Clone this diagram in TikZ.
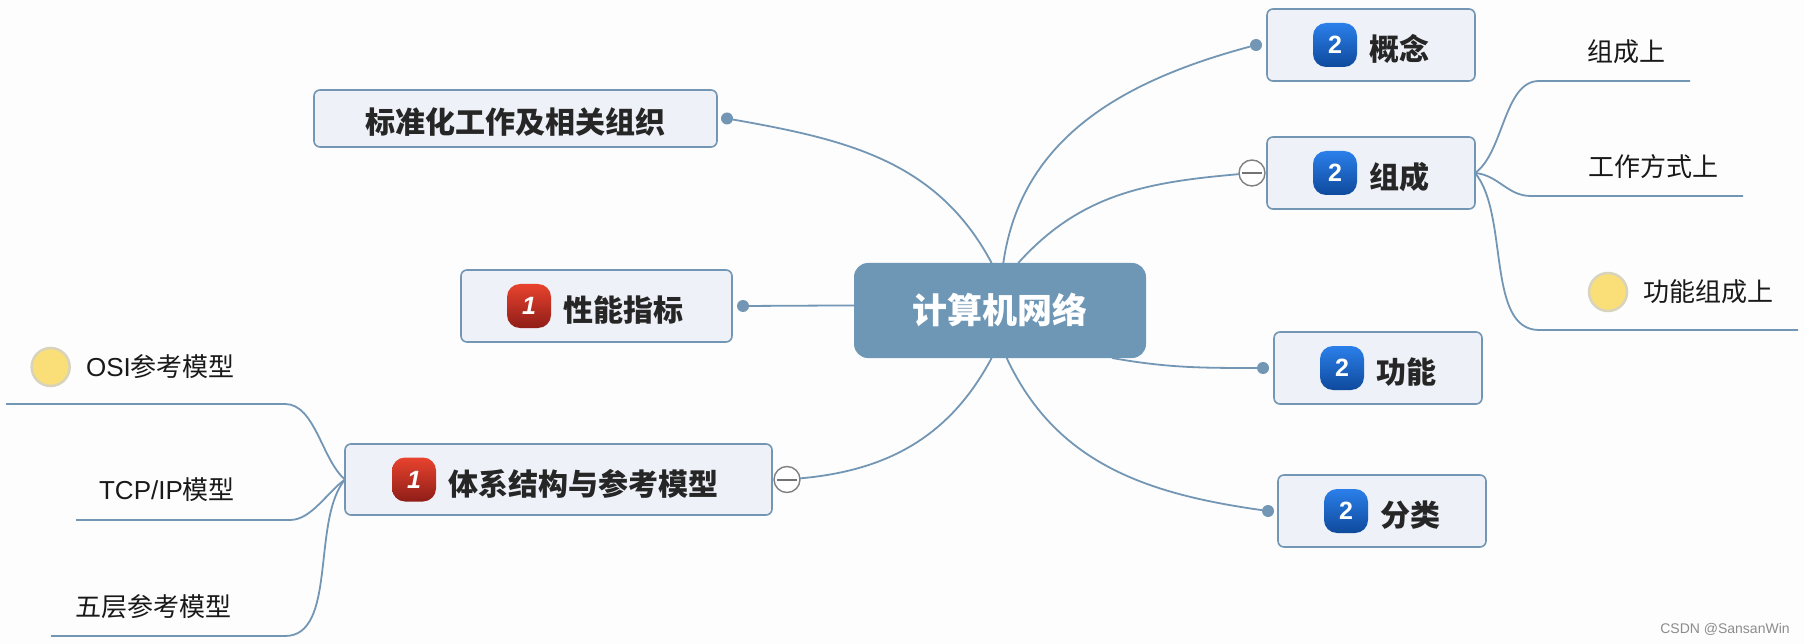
\documentclass[tikz,border=0pt]{standalone}
\usepackage{fontspec}
\setmainfont{Noto Sans CJK SC}
\newfontfamily\lat{Liberation Sans}
\usetikzlibrary{positioning}
\definecolor{linkblue}{HTML}{7396B4}
\definecolor{rootblue}{HTML}{6E97B6}
\definecolor{boxfill}{HTML}{EEF1F7}
\definecolor{pagebg}{HTML}{FDFDFD}
\definecolor{sunfill}{HTML}{FADF78}
\definecolor{sunline}{HTML}{D8D4BC}
\definecolor{bluetop}{HTML}{2B7FEA}
\definecolor{bluemid}{HTML}{1A66D6}
\definecolor{bluelow}{HTML}{0E4A9C}
\definecolor{redtop}{HTML}{E8432E}
\definecolor{redmid}{HTML}{C9301F}
\definecolor{redlow}{HTML}{8F1D17}
\tikzset{
  link/.style = {draw=linkblue, line width=1.8pt},
  root/.style = {fill=rootblue, rounded corners=14pt, text=white, font=\fontsize{35}{40}\selectfont\bfseries, minimum width=292pt, minimum height=95pt, outer sep=0pt},
  topic/.style = {draw=linkblue, fill=boxfill, line width=1.6pt, rounded corners=6pt, outer sep=0pt, inner sep=0pt},
  badge/.style = {rounded corners=13pt, minimum size=44pt, inner sep=0pt, outer sep=0pt, text=white, font=\lat\bfseries\fontsize{25}{28}\selectfont},
  badgeb/.style = {badge, top color=bluetop, middle color=bluemid, bottom color=bluelow},
  badger/.style = {badge, top color=redtop, middle color=redmid, bottom color=redlow, font=\lat\bfseries\itshape\fontsize{25}{28}\selectfont},
  toptext/.style = {inner sep=0pt, yshift=-4pt, font=\fontsize{30}{34}\selectfont\bfseries, text=black!85},
  leaf/.style = {inner sep=0pt, font=\fontsize{26}{30}\selectfont, text=black!90},
  tipdot/.style = {circle, fill=linkblue, minimum size=12pt, inner sep=0pt, outer sep=0pt},
  foldmark/.style = {circle, draw=black!50, fill=white, line width=1.4pt, minimum size=26pt, inner sep=0pt, outer sep=0pt},
  sunny/.style = {circle, draw=sunline, fill=sunfill, line width=2.5pt, minimum size=38pt, inner sep=0pt}
}
\begin{document}
\begin{tikzpicture}[x=1pt, y=-1pt]
  \path[use as bounding box, fill=pagebg] (0,0) rectangle (1804,644);
  \node[root] (net) at (1000,310.5) {\raisebox{-3pt}{计算机网络}};

  \node[topic, minimum width=208pt, minimum height=72pt, above right=182pt and 121pt of net] (concept) {};
  \node[badgeb, right=46pt of concept.west] (conceptb) {2};
  \node[toptext, right=12pt of conceptb] (conceptt) {概念};
  \node[tipdot, left=5pt of concept] (conceptd) {};

  \node[topic, minimum width=208pt, minimum height=72pt, above right=54pt and 121pt of net] (compo) {};
  \node[badgeb, right=46pt of compo.west] (compob) {2};
  \node[toptext, right=12pt of compob] (compot) {组成};
  \node[foldmark, left=2pt of compo] (compom) {};

  \node[topic, minimum width=208pt, minimum height=72pt, below=123pt of compo, xshift=7pt] (func) {};
  \node[badgeb, right=46pt of func.west] (funcb) {2};
  \node[toptext, right=12pt of funcb] (funct) {功能};
  \node[tipdot, left=5pt of func] (funcd) {};

  \node[topic, minimum width=208pt, minimum height=72pt, below=71pt of func, xshift=4pt] (kind) {};
  \node[badgeb, right=46pt of kind.west] (kindb) {2};
  \node[toptext, right=12pt of kindb] (kindt) {分类};
  \node[tipdot, left=4pt of kind] (kindd) {};

  \node[topic, minimum width=403pt, minimum height=57pt, above left=116pt and 137pt of net] (std) {};
  \node[toptext] (stdt) at (std) {标准化工作及相关组织};
  \node[tipdot, right=4pt of std] (stdd) {};

  \node[topic, minimum width=271pt, minimum height=72pt, left=122pt of net, yshift=4.5pt] (perf) {};
  \node[badger, right=46pt of perf.west] (perfb) {1};
  \node[toptext, right=12pt of perfb] (perft) {性能指标};
  \node[tipdot, right=5pt of perf] (perfd) {};

  \node[topic, minimum width=427pt, minimum height=71pt, below left=86pt and 82pt of net] (arch) {};
  \node[badger, right=47pt of arch.west] (archb) {1};
  \node[toptext, right=12pt of archb] (archt) {体系结构与参考模型};
  \node[foldmark, right=2pt of arch] (archm) {};

  % leaves on the right
  \node[leaf] (parts) at (1626,52) {组成上};
  \node[leaf] (work) at (1653,167) {工作方式上};
  \node[leaf] (funcparts) at (1708.5,292) {功能组成上};
  \node[sunny, left=15pt of funcparts] (funcsun) {};
  \coordinate (partsa) at (1539,81);
  \coordinate (partsb) at (1690,81);
  \coordinate (worka) at (1531,196);
  \coordinate (workb) at (1743,196);
  \coordinate (funcpartsa) at (1539,330);
  \coordinate (funcpartsb) at (1798,330);

  % leaves on the left
  \node[leaf] (osi) at (160.5,367) {{\lat OSI}参考模型};
  \node[sunny, left=15pt of osi] (osisun) {};
  \node[leaf] (tcp) at (167,490) {{\lat TCP/IP}模型};
  \node[leaf] (five) at (153.5,607) {五层参考模型};
  \coordinate (osia) at (285,404);
  \coordinate (osib) at (6,404);
  \coordinate (tcpa) at (290,520);
  \coordinate (tcpb) at (76,520);
  \coordinate (fivea) at (285,636);
  \coordinate (fiveb) at (51,636);

  \draw[link] (net.100) to[out=118, in=-10] (stdd);
  \draw[link] (net.86) to[out=82, in=195] (conceptd);
  \draw[link] (net.69) to[out=48, in=185] (compom);
  \draw[link] (net.178) -- (perfd);
  \draw[link] (net.337) to[out=-10, in=180] (funcd);
  \draw[link] (net.278) to[out=-65, in=172] (kindd);
  \draw[link] (net.260) to[out=242, in=5] (archm);

  \draw[link] (compo.east) to[out=35, in=180, looseness=.8] (partsa) -- (partsb);
  \draw[link] (compo.east) to[out=-5, in=180] (worka) -- (workb);
  \draw[link] (compo.east) to[out=-50, in=180, looseness=.8] (funcpartsa) -- (funcpartsb);
  \draw[link] (arch.west) to[out=140, in=0, looseness=.8] (osia) -- (osib);
  \draw[link] (arch.west) to[out=215, in=0, looseness=.8] (tcpa) -- (tcpb);
  \draw[link] (arch.west) to[out=230, in=0, looseness=.8] (fivea) -- (fiveb);

  \draw[black!55, line width=2pt, shorten >=3pt, shorten <=3pt] (compom.west) -- (compom.east);
  \draw[black!55, line width=2pt, shorten >=3pt, shorten <=3pt] (archm.west) -- (archm.east);

  \node[inner sep=0pt, text=black!45, font=\lat\fontsize{14}{16}\selectfont] (credit) at (1725,629) {CSDN @SansanWin};
\end{tikzpicture}
\end{document}
